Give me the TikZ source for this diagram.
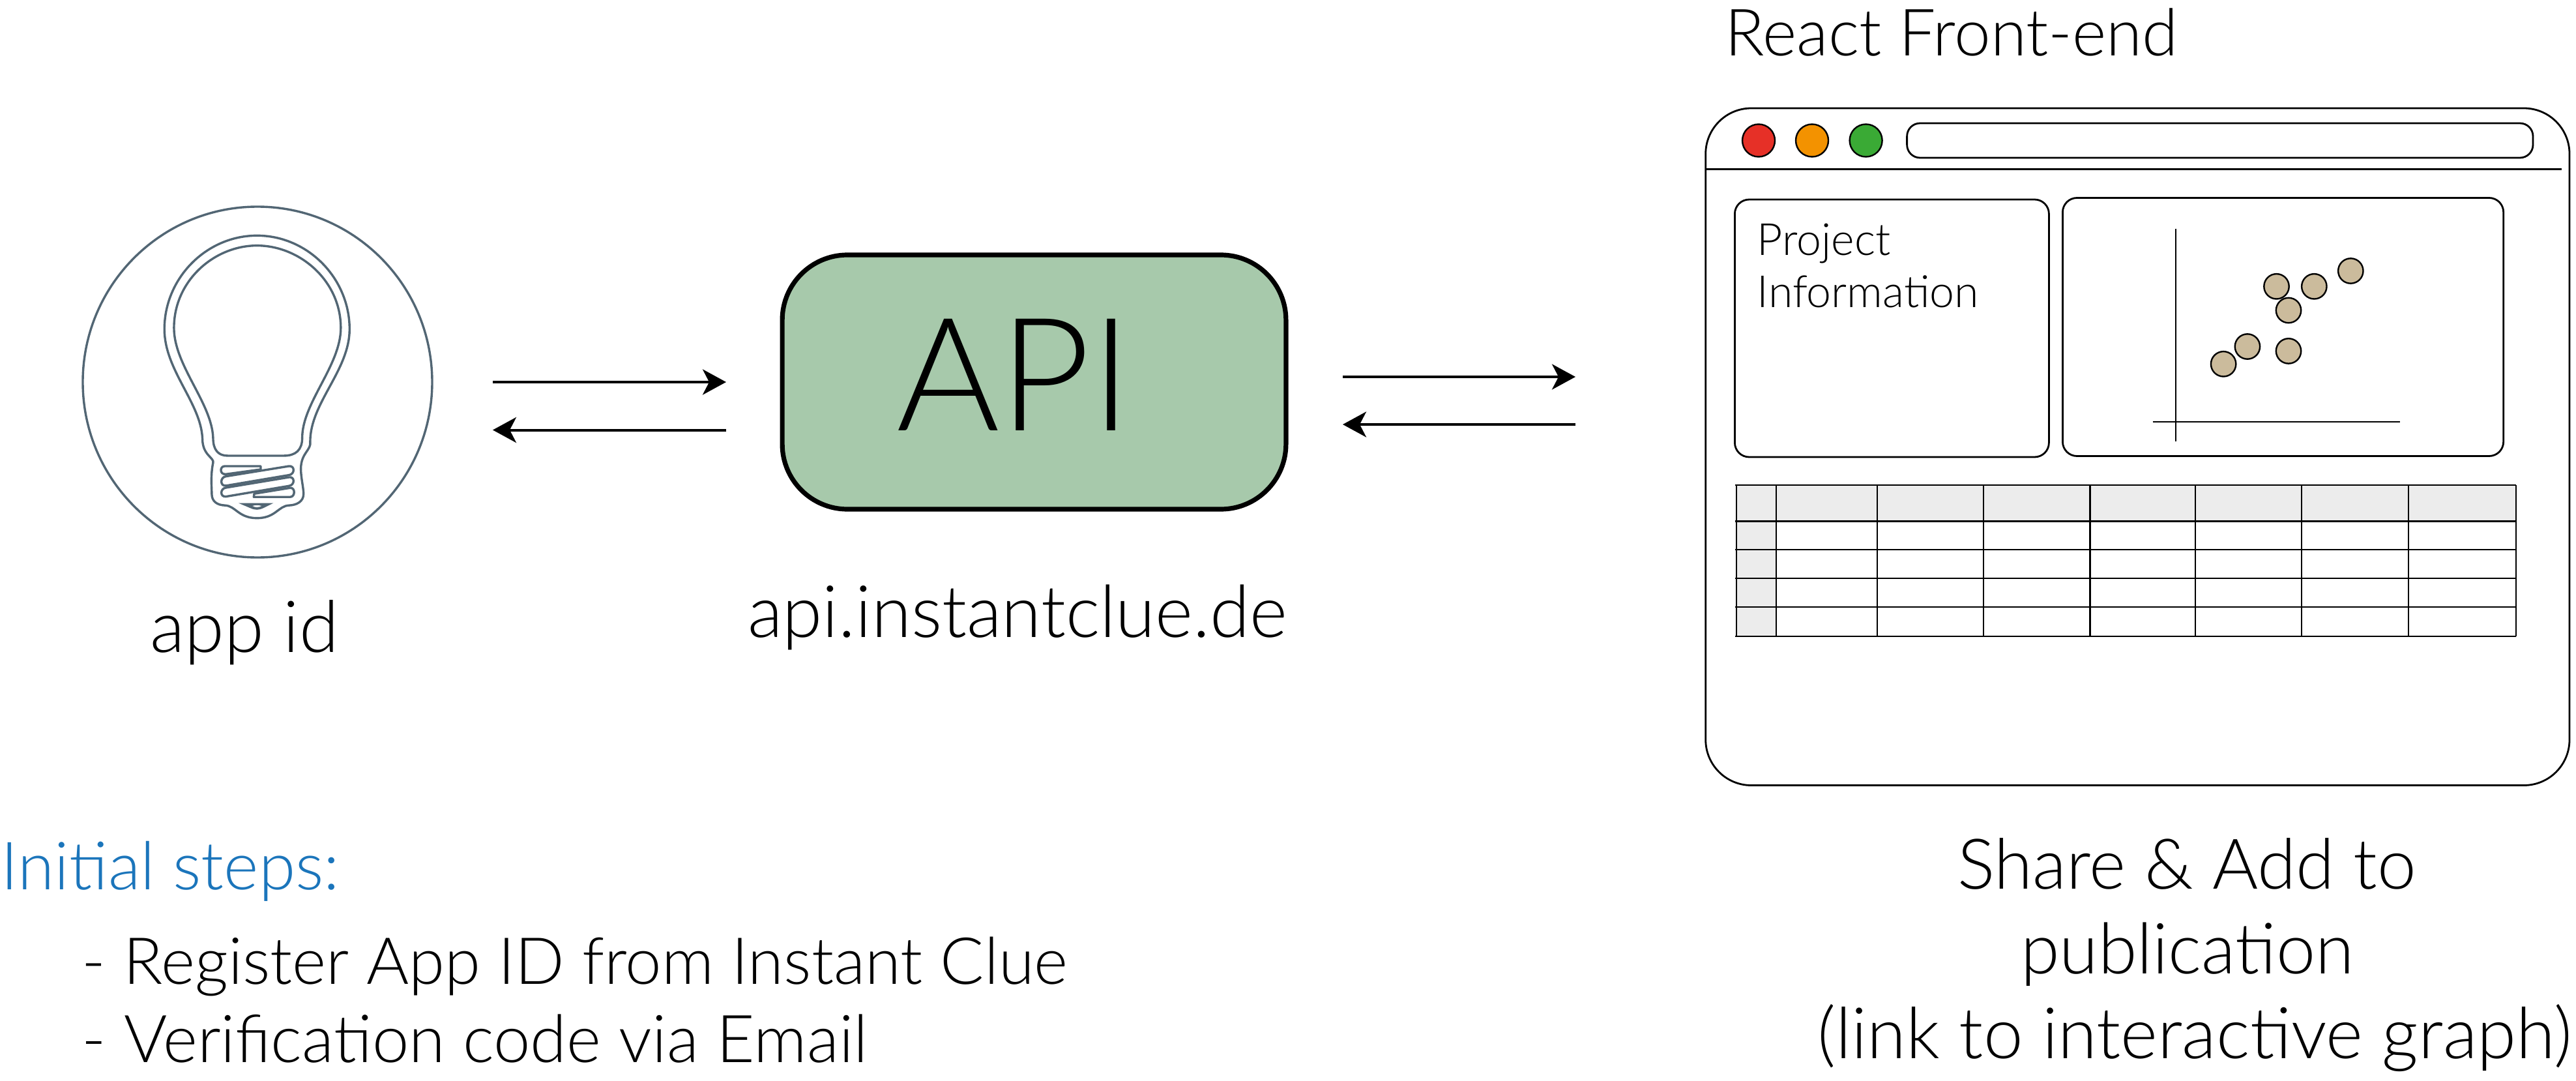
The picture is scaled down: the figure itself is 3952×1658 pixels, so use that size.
\documentclass[tikz,border=0pt]{standalone}
\usepackage{fontspec}
\setmainfont{Lato Light}
\usetikzlibrary{arrows.meta}
\definecolor{bulb}{HTML}{526674}
\definecolor{apigreen}{HTML}{A7C9AB}
\definecolor{dotfill}{HTML}{CBBB9C}
\definecolor{cellgray}{HTML}{ECECEC}
\definecolor{stepblue}{HTML}{1B75BB}
\tikzset{
  bulbline/.style={draw=bulb,line width=0.85pt,line join=round},
  pane/.style={draw=black,line width=0.7pt,fill=white},
  flow/.style={draw=black,line width=1pt,-{Stealth[length=9pt,width=9.75pt,inset=2.5pt]}},
  txt/.style={anchor=base,inner sep=0pt},
  txtw/.style={anchor=base west,inner sep=0pt},
  dot/.style={circle,draw=black,line width=0.6pt,inner sep=0pt,minimum size=9.6pt,fill=dotfill},
  led/.style={circle,draw=black,line width=0.6pt,inner sep=0pt,minimum size=12.5pt},
  grid/.style={draw=black,line width=0.55pt}
}
\begin{document}
\begin{tikzpicture}[x=0.25pt,y=-0.25pt]
\useasboundingbox (0,0) rectangle (3952,1658);
\fill[white] (0,0) rectangle (3952,1658);
% bulb
\draw[bulbline] (395,586) ellipse [x radius=268,y radius=269];
\begin{scope}[x=0.25pt/2.45,y=-0.25pt/2.613,shift={(80*2.45,300*2.613)}]
\draw[bulbline] (770,160) .. controls (960,160) and (1118,330) .. (1118,535)
 .. controls (1118,700) and (970,830) .. (970,985)
 .. controls (975,1020) and (935,1030) .. (935,1095)
 .. controls (935,1130) and (945,1170) .. (945,1195)
 .. controls (945,1225) and (920,1240) .. (890,1241)
 .. controls (850,1243) and (840,1292) .. (770,1292)
 .. controls (700,1292) and (690,1243) .. (650,1241)
 .. controls (620,1240) and (600,1225) .. (600,1195)
 .. controls (600,1170) and (595,1120) .. (605,1070)
 .. controls (610,1050) and (565,1040) .. (565,975)
 .. controls (560,830) and (422,700) .. (422,535)
 .. controls (422,330) and (580,160) .. (770,160) -- cycle;
\draw[bulbline] (770,200) .. controls (930,200) and (1085,340) .. (1085,530)
 .. controls (1085,680) and (940,830) .. (940,970)
 .. controls (940,1020) and (915,1042) .. (870,1042) -- (660,1042)
 .. controls (625,1042) and (605,1020) .. (605,970)
 .. controls (600,830) and (458,680) .. (458,530)
 .. controls (458,340) and (610,200) .. (770,200) -- cycle;
\end{scope}
\begin{scope}[x=0.25pt/3,y=-0.25pt/3,shift={(280*3,620*3)}]
\draw[bulbline] (195,285)--(360,285)--(360,300)--(200,322) .. controls (170,325) and (170,285) .. (195,285) -- cycle;
\draw[bulbline] (200,332)--(490,285) .. controls (518,282) and (518,322) .. (490,326)--(200,375) .. controls (172,378) and (172,336) .. (200,332) -- cycle;
\draw[bulbline] (200,384)--(490,336) .. controls (518,332) and (518,372) .. (490,376)--(200,425) .. controls (172,428) and (172,388) .. (200,384) -- cycle;
\draw[bulbline] (330,412)--(495,385) .. controls (520,382) and (520,427) .. (495,427)--(328,427)-- cycle;
\fill[bulb] (258,455)--(418,455)--(372,478)..controls (350,488) and (335,488)..(312,478)--cycle;
\fill[white] (322,468)..controls (335,464) and (350,464)..(364,468)..controls (350,476) and (335,476)..(322,468)--cycle;
\end{scope}
\node[txt,font=\fontsize{27.5}{27.5}\selectfont] (appid) at (375,1000) {app id};
% API
\node[draw=black,line width=1.8pt,fill=apigreen,rounded corners=25pt,minimum width=193.2pt,minimum height=97.5pt,inner sep=0pt] (api) at (1586.5,586) {};
\node[txt,font=\fontsize{60.5}{60.5}\selectfont] (apitext) at (1556,660) {API};
\node[txt,font=\fontsize{27.7}{27.7}\selectfont] (apilbl) at (1561,977) {api.instantclue.de};
% arrows
\coordinate (a1) at (756,586); \coordinate (a2) at (1114,586);
\coordinate (a3) at (756,659.5); \coordinate (a4) at (1114,659.5);
\coordinate (b1) at (2060,578); \coordinate (b2) at (2417,578);
\coordinate (b3) at (2060,651); \coordinate (b4) at (2417,651);
\draw[flow] (a1)--(a2);
\draw[flow] (a4)--(a3);
\draw[flow] (b1)--(b2);
\draw[flow] (b4)--(b3);
% browser
\node[txtw,font=\fontsize{25}{25}\selectfont] (react) at (2646,86) {React Front-end};
\draw[pane,rounded corners=17.5pt] (2616.7,166) rectangle (3942,1204.5);
\draw[draw=black,line width=0.8pt] (2616.7,259.5)--(3930,259.5);
\node[led,fill={rgb,255:red,230;green,48;blue,39}] (l1) at (2698,215.5) {};
\node[led,fill={rgb,255:red,243;green,146;blue,0}] (l2) at (2780,215.5) {};
\node[led,fill={rgb,255:red,58;green,170;blue,53}] (l3) at (2862.6,215.5) {};
\draw[pane,rounded corners=5pt] (2925.6,189) rectangle (3886,242);
\draw[pane,rounded corners=5.5pt] (2661.4,306) rectangle (3143.4,701);
\draw[pane,rounded corners=5.5pt] (3164.4,303.5) rectangle (3840.7,699.5);
\node[txtw,font=\fontsize{17}{17}\selectfont] (p1) at (2695,391.5) {Project};
\node[txtw,font=\fontsize{17}{17}\selectfont] (p2) at (2695,471) {Information};
\draw[black,line width=0.4pt] (3337.7,350.5)--(3337.7,676.5);
\draw[black,line width=0.7pt] (3302.7,647)--(3682.4,647);
\node[dot] (d1) at (3606.3,415.5) {};
\node[dot] (d2) at (3492.5,439.3) {};
\node[dot] (d3) at (3550.3,439.3) {};
\node[dot] (d4) at (3511,476) {};
\node[dot] (d5) at (3447.9,531.5) {};
\node[dot] (d6) at (3511,538.4) {};
\node[dot] (d7) at (3411.1,558.3) {};
% table
\fill[cellgray] (2664,744) rectangle (3860,799.5);
\fill[cellgray] (2664,744) rectangle (2725.2,976);
\foreach \x in {2664,2725.2,2880,3042.8,3206.4,3368.3,3531,3694.6,3860}
  \draw[grid] (\x,744)--(\x,976);
\foreach \y in {744,799.5,843,887,931,976}
  \draw[grid,line width=0.7pt] (2662,\y)--(3860,\y);
% bottom text
\node[txtw,text=stepblue,font=\fontsize{25.5}{25.5}\selectfont] (init) at (1,1364) {Initial steps:};
\node[txtw,font=\fontsize{24.9}{24.9}\selectfont] (s1) at (125,1509) {- Register App ID from Instant Clue};
\node[txtw,font=\fontsize{25.3}{25.3}\selectfont] (s2) at (125,1629) {- Verification code via Email};
\node[txt,font=\fontsize{26.8}{26.8}\selectfont] (t1) at (3355,1363) {Share \& Add to};
\node[txt,font=\fontsize{27}{27}\selectfont] (t2) at (3356,1493) {publication};
\node[txt,font=\fontsize{27.2}{27.2}\selectfont] (t3) at (3367,1623) {(link to interactive graph)};
\end{tikzpicture}
\end{document}
